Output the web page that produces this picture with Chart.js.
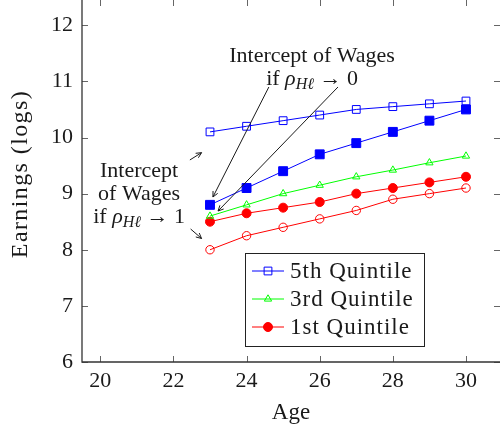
<!DOCTYPE html>
<html>
<head>
<meta charset="utf-8">
<script src="https://cdn.jsdelivr.net/npm/chart.js@4.4.1/dist/chart.umd.min.js"></script>
<style>
  html, body { margin: 0; padding: 0; background: #fff; }
</style>
</head>
<body>
<canvas id="earnings-chart" width="500" height="431"></canvas>
<script>
// age profiles of log earnings by quintile
const ages = [23, 24, 25, 26, 27, 28, 29, 30];
const q5Upper = [10.1, 10.2, 10.3, 10.4, 10.5, 10.55, 10.6, 10.65];
const q5Lower = [8.8, 9.1, 9.4, 9.7, 9.9, 10.1, 10.3, 10.5];
const q3 = [8.6, 8.8, 9.0, 9.15, 9.3, 9.42, 9.55, 9.67];
const q1Upper = [8.5, 8.65, 8.75, 8.85, 9.0, 9.1, 9.2, 9.3];
const q1Lower = [8.0, 8.25, 8.4, 8.55, 8.7, 8.9, 9.0, 9.1];

const xTicks = [20, 22, 24, 26, 28, 30];
const yTicks = [6, 7, 8, 9, 10, 11, 12];

const BLUE = '#0000ff', GREEN = '#00ff00', RED = '#ff0000';
const SERIF = '"Liberation Serif", "Times New Roman", serif';
const INK = '#1a1a1a';

const pts = vals => ages.map((a, i) => ({ x: a, y: vals[i] }));

// text notes and arrows, placed in axis units
const notes = [
  { x: 25.79, lines: [[['Intercept of Wages']], [['if '], ['ρ', 'i'], ['Hℓ', 's'], [' → 0']]], ys: [11.35, 10.94] },
  { x: 21.06, lines: [[['Intercept']], [['of Wages']], [['if '], ['ρ', 'i'], ['Hℓ', 's'], [' → 1']]], ys: [9.30, 8.89, 8.48] }
];
const arrows = [
  [24.61, 10.90, 23.08, 8.94],
  [26.50, 10.90, 23.22, 8.69],
  [22.45, 9.60, 22.77, 9.73],
  [22.47, 8.37, 22.77, 8.20]
];

function series(label, vals, color, style, radius, filled) {
  return {
    label: label,
    data: pts(vals),
    borderColor: color,
    borderWidth: 1,
    pointStyle: style,
    pointRadius: radius,
    pointBorderWidth: 1,
    pointBorderColor: color,
    pointBackgroundColor: filled ? color : 'rgba(255,255,255,0)',
    tension: 0
  };
}

const frame = {
  id: 'frame',
  beforeDraw(chart) {
    chart.ctx.letterSpacing = '0px';
  },
  afterDatasetsDraw(chart) {
    const { ctx, chartArea: a, scales: { x, y } } = chart;
    ctx.save();
    ctx.strokeStyle = '#666';
    ctx.lineWidth = 1;
    ctx.beginPath();
    xTicks.forEach(v => {
      const px = Math.round(x.getPixelForValue(v)) + 0.5;
      ctx.moveTo(px, a.bottom); ctx.lineTo(px, a.bottom - 6);
      ctx.moveTo(px, a.top); ctx.lineTo(px, a.top + 6);
    });
    yTicks.forEach(v => {
      const py = Math.round(y.getPixelForValue(v)) + 0.5;
      ctx.moveTo(a.left, py); ctx.lineTo(a.left + 6, py);
      ctx.moveTo(a.right, py); ctx.lineTo(a.right - 6, py);
    });
    ctx.stroke();

    ctx.strokeStyle = '#333';
    ctx.lineWidth = 1.3;
    ctx.beginPath();
    ctx.moveTo(a.left, a.top);
    ctx.lineTo(a.left, a.bottom);
    ctx.lineTo(a.right, a.bottom);
    ctx.stroke();

    // vertical axis title
    ctx.translate(21, a.bottom / 2 - 7);
    ctx.rotate(-Math.PI / 2);
    ctx.fillStyle = INK;
    ctx.font = '24px ' + SERIF;
    ctx.letterSpacing = '1.4px';
    ctx.textAlign = 'center';
    ctx.textBaseline = 'middle';
    ctx.fillText('Earnings (logs)', 0, 0);
    ctx.restore();
  }
};

const notesPlugin = {
  id: 'notes',
  afterDatasetsDraw(chart) {
    const { ctx, scales: { x, y } } = chart;
    ctx.save();
    ctx.fillStyle = INK;
    ctx.textBaseline = 'alphabetic';
    const fontFor = k => k === 'i' ? 'italic 22px ' + SERIF : k === 's' ? 'italic 16px ' + SERIF : '22px ' + SERIF;
    notes.forEach(n => {
      const cx = x.getPixelForValue(n.x);
      n.lines.forEach((parts, li) => {
        const base = y.getPixelForValue(n.ys[li]);
        let w = 0;
        parts.forEach(p => { ctx.font = fontFor(p[1]); w += ctx.measureText(p[0]).width; });
        let px = cx - w / 2;
        parts.forEach(p => {
          ctx.font = fontFor(p[1]);
          ctx.fillText(p[0], px, base + (p[1] === 's' ? 4 : 0));
          px += ctx.measureText(p[0]).width;
        });
      });
    });

    ctx.strokeStyle = INK;
    ctx.lineWidth = 1;
    arrows.forEach(([x0, y0, x1, y1]) => {
      const ax = x.getPixelForValue(x0), ay = y.getPixelForValue(y0);
      const bx = x.getPixelForValue(x1), by = y.getPixelForValue(y1);
      const ang = Math.atan2(by - ay, bx - ax);
      ctx.beginPath();
      ctx.moveTo(ax, ay);
      ctx.lineTo(bx, by);
      [-0.45, 0.45].forEach(d => {
        ctx.moveTo(bx, by);
        ctx.lineTo(bx - 6 * Math.cos(ang + d), by - 6 * Math.sin(ang + d));
      });
      ctx.stroke();
    });
    ctx.restore();
  }
};

// legend box inside the plot
const legendBox = { left: 245, top: 253, width: 179, height: 93, rowGap: 28, lineLen: 32 };
const legendPlugin = {
  id: 'innerLegend',
  afterDatasetsDraw(chart) {
    const { ctx } = chart;
    const b = legendBox;
    const items = chart.data.datasets.filter(d => d.label);
    ctx.save();
    ctx.fillStyle = '#fff';
    ctx.fillRect(b.left, b.top, b.width, b.height);
    ctx.strokeStyle = '#222';
    ctx.lineWidth = 1;
    ctx.strokeRect(b.left + 0.5, b.top + 0.5, b.width, b.height);
    items.forEach((d, i) => {
      const cy = b.top + 18 + i * b.rowGap;
      const x0 = b.left + 7;
      ctx.strokeStyle = d.borderColor;
      ctx.beginPath();
      ctx.moveTo(x0, cy); ctx.lineTo(x0 + b.lineLen, cy);
      ctx.stroke();
      ctx.fillStyle = d.pointBackgroundColor;
      ctx.strokeStyle = d.pointBorderColor;
      Chart.helpers.drawPoint(ctx, { pointStyle: d.pointStyle, radius: d.pointRadius, borderWidth: 1, rotation: 0 }, x0 + b.lineLen / 2, cy);
      ctx.fillStyle = INK;
      ctx.font = '23px ' + SERIF;
      ctx.letterSpacing = '1px';
      ctx.textBaseline = 'middle';
      ctx.fillText(d.label, x0 + b.lineLen + 6, cy + 1);
      ctx.letterSpacing = '0px';
    });
    ctx.restore();
  }
};

const noPad = s => { s.paddingTop = 0; s.paddingBottom = 0; s.paddingLeft = 0; s.paddingRight = 0; };

new Chart(document.getElementById('earnings-chart'), {
  type: 'line',
  data: {
    datasets: [
      series('5th Quintile', q5Upper, BLUE, 'rect', 5.5, false),
      series('', q5Lower, BLUE, 'rect', 6.3, true),
      series('3rd Quintile', q3, GREEN, 'triangle', 4.2, false),
      series('1st Quintile', q1Upper, RED, 'circle', 4.5, true),
      series('', q1Lower, RED, 'circle', 4.2, false)
    ]
  },
  options: {
    responsive: false,
    animation: false,
    devicePixelRatio: 1,
    layout: { padding: 0, autoPadding: false },
    plugins: { legend: { display: false }, tooltip: { enabled: false } },
    scales: {
      x: {
        type: 'linear',
        min: 19.5,
        max: 30.93,
        grid: { display: false, drawTicks: false },
        border: { display: false },
        ticks: { color: INK, font: { family: SERIF, size: 22 }, padding: 6 },
        title: { display: true, text: 'Age', color: INK, font: { family: SERIF, size: 23 }, padding: { top: 4 } },
        afterBuildTicks: s => { s.ticks = xTicks.map(v => ({ value: v })); },
        afterFit: s => { s.height = 69; noPad(s); }
      },
      y: {
        min: 6,
        max: 12.45,
        grid: { display: false, drawTicks: false },
        border: { display: false },
        ticks: { color: INK, font: { family: SERIF, size: 22 }, padding: 9 },
        afterBuildTicks: s => { s.ticks = yTicks.map(v => ({ value: v })); },
        afterFit: s => { s.width = 82; noPad(s); }
      }
    }
  },
  plugins: [frame, notesPlugin, legendPlugin]
});
</script>
</body>
</html>
